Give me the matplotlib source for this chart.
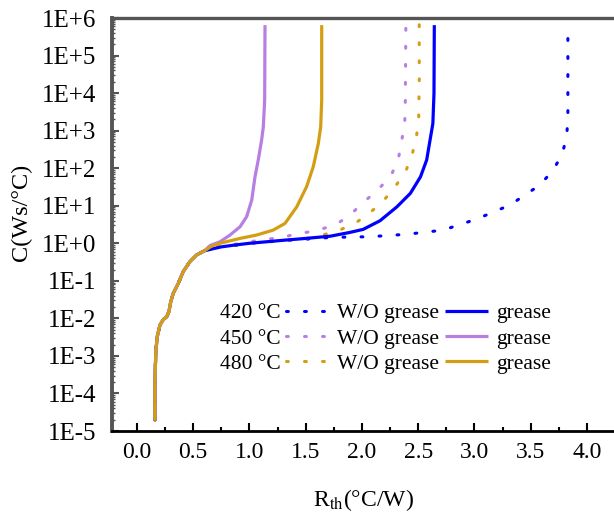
import numpy as np
import matplotlib
matplotlib.use('Agg')
import matplotlib.pyplot as plt
from matplotlib.lines import Line2D
from matplotlib.ticker import LogLocator, FuncFormatter, MultipleLocator, NullFormatter

plt.rcParams['font.family'] = ['Liberation Serif', 'DejaVu Serif']
plt.rcParams['mathtext.fontset'] = 'stix'

# Parte comum (baixa) das curvas: Rth (°C/W) e log10(C)
base_rth = [0.16, 0.16, 0.169, 0.18, 0.204, 0.234, 0.264, 0.284, 0.30, 0.323,
            0.367, 0.41, 0.47, 0.53, 0.60]
base_logc = [-4.71, -3.55, -2.84, -2.49, -2.18, -2.03, -1.96, -1.82, -1.56, -1.33,
             -1.07, -0.76, -0.49, -0.31, -0.20]

# 420 °C
rth_420_wo = [0.74, 0.86, 1.0, 1.3, 1.5, 1.731, 2.071, 2.397, 2.72, 3.02, 3.316,
              3.58, 3.695, 3.78, 3.82, 3.83, 3.83, 3.83]
logc_420_wo = [-0.10, -0.06, 0.0, 0.07, 0.11, 0.158, 0.175, 0.24, 0.35, 0.646, 1.02,
               1.55, 1.93, 2.37, 2.86, 3.35, 4.35, 5.83]
rth_420_g = [0.74, 0.86, 1.0, 1.3, 1.5, 1.72, 1.893, 2.01, 2.16, 2.31, 2.43, 2.52,
             2.575, 2.60, 2.63, 2.64, 2.643]
logc_420_g = [-0.10, -0.05, 0.0, 0.08, 0.13, 0.19, 0.29, 0.37, 0.60, 0.97, 1.33, 1.77,
              2.22, 2.66, 3.19, 3.99, 5.81]

# 450 °C
rth_450_wo = [0.74, 0.86, 1.0, 1.15, 1.30, 1.45, 1.61, 1.769, 1.893, 2.012, 2.14,
              2.258, 2.323, 2.353, 2.38, 2.385, 2.39]
logc_450_wo = [-0.08, -0.03, 0.04, 0.10, 0.17, 0.26, 0.35, 0.50, 0.75, 1.09, 1.42,
               1.80, 2.24, 2.73, 3.21, 3.73, 5.83]
rth_450_g = [0.65, 0.738, 0.827, 0.916, 0.975, 1.02, 1.049, 1.078, 1.108, 1.123,
             1.135, 1.138]
logc_450_g = [-0.06, 0.04, 0.22, 0.44, 0.71, 1.15, 1.77, 2.22, 2.75, 3.10, 3.81, 5.81]

# 480 °C
rth_480_wo = [0.74, 0.86, 1.0, 1.15, 1.33, 1.51, 1.65, 1.80, 1.938, 2.065, 2.19,
              2.30, 2.391, 2.45, 2.486, 2.504, 2.509, 2.509]
logc_480_wo = [-0.09, -0.05, 0.01, 0.04, 0.08, 0.13, 0.22, 0.35, 0.53, 0.80, 1.13,
               1.53, 1.93, 2.41, 2.88, 3.37, 4.35, 5.83]
rth_480_g = [0.66, 0.738, 0.916, 1.064, 1.21, 1.316, 1.42, 1.508, 1.567, 1.612,
             1.633, 1.642, 1.642]
logc_480_g = [-0.08, 0.0, 0.13, 0.22, 0.35, 0.53, 0.97, 1.51, 2.04, 2.66, 3.10,
              3.81, 5.81]

temps = ['420 °C', '450 °C', '480 °C']
colors = ['#0000ff', '#b77fe3', '#d49e12']


def full(rth, logc):
    x = np.array(base_rth + rth)
    y = 10 ** np.array(base_logc + logc)
    return x, y


fig = plt.figure(figsize=(6.14, 5.13), dpi=100)
ax = fig.add_axes([0.1824, 0.1598, 0.8176, 0.8051])

wo = [(rth_420_wo, logc_420_wo), (rth_450_wo, logc_450_wo), (rth_480_wo, logc_480_wo)]
gr = [(rth_420_g, logc_420_g), (rth_450_g, logc_450_g), (rth_480_g, logc_480_g)]

dot_handles = []
for (r, c), col in zip(wo, colors):
    x, y = full(r, c)
    h, = ax.plot(x, y, color=col, lw=2.2, linestyle=(0, (0.6, 5.3)),
                 dash_capstyle='round')
    dot_handles.append(h)

line_handles = []
for (r, c), col in zip(gr, colors):
    x, y = full(r, c)
    h, = ax.plot(x, y, color=col, lw=2.3, solid_capstyle='butt')
    line_handles.append(h)

ax.set_yscale('log')
ax.set_xlim(-0.222, 4.24)
ax.set_ylim(1e-5, 1e6)

ax.yaxis.set_major_locator(LogLocator(base=10, numticks=20))
ax.yaxis.set_minor_locator(LogLocator(base=10, subs=np.arange(2, 10), numticks=20))
ax.yaxis.set_major_formatter(FuncFormatter(lambda v, p: f'1E{int(round(np.log10(v))):+d}'))
ax.yaxis.set_minor_formatter(NullFormatter())
ax.xaxis.set_major_locator(MultipleLocator(0.5))
ax.xaxis.set_minor_locator(MultipleLocator(0.25))
ax.xaxis.set_major_formatter(FuncFormatter(lambda v, p: f'{v:.1f}'))

ax.tick_params(axis='both', which='both', direction='in')
ax.tick_params(axis='x', which='major', length=6, width=1.5, color='black', pad=8,
               labelsize=17)
ax.tick_params(axis='x', which='minor', length=3, width=1.5, color='black')
ax.tick_params(axis='y', which='major', length=5, width=1.5, color='#555555', pad=11,
               labelsize=18)
ax.tick_params(axis='y', which='minor', length=2.5, width=1.0, color='#555555')

ax.spines['right'].set_visible(False)
ax.spines['left'].set_color('#555555')
ax.spines['left'].set_linewidth(2.8)
ax.spines['top'].set_color('#555555')
ax.spines['top'].set_linewidth(2.4)
ax.spines['bottom'].set_color('black')
ax.spines['bottom'].set_linewidth(2.0)

ax.set_xlabel('R$_{\\rm th}$(°C/W)', fontsize=17)
ax.set_ylabel('C(Ws/°C)', fontsize=17.5)
ax.xaxis.set_label_coords(0.5, -0.135)
ax.yaxis.set_label_coords(-0.16, 0.53)

blank = [Line2D([], [], linestyle='none') for _ in temps]
ax.legend(blank + dot_handles + line_handles,
          temps + ['W/O grease'] * 3 + ['grease'] * 3,
          ncol=3, frameon=False, fontsize=15.5, loc='upper left',
          bbox_to_anchor=(0.113, 0.31), borderpad=0, borderaxespad=0,
          handlelength=2.0, handletextpad=0.38, columnspacing=0.25,
          labelspacing=0.25)

fig.savefig('out.png', dpi=100)
